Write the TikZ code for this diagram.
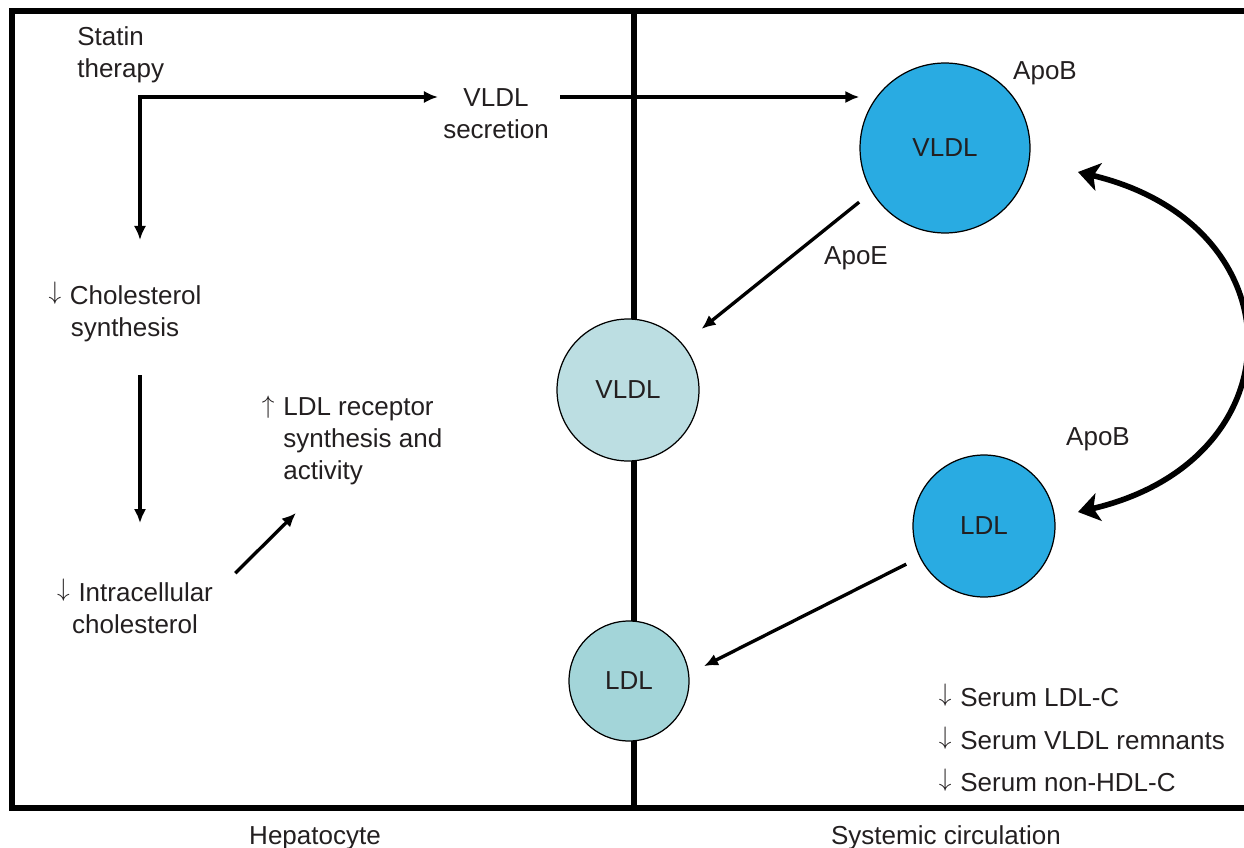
\documentclass[tikz,border=0pt]{standalone}
\usepackage{fontspec}
\setmainfont{Liberation Sans}
\usetikzlibrary{arrows.meta}
\definecolor{apoBlue}{RGB}{41,171,226}
\definecolor{vldlPale}{RGB}{188,222,226}
\definecolor{ldlPale}{RGB}{163,213,217}
\definecolor{inkGray}{RGB}{35,31,32}
\newcommand{\dn}{\smash{\raisebox{3pt}{$\downarrow$}}\hspace{5pt}}
\newcommand{\upw}{\smash{\raisebox{1pt}{$\uparrow$}}\hspace{5pt}}
\begin{document}
\begin{tikzpicture}[x=0.02cm, y=-0.02cm, font=\fontsize{14.8}{18.2}\selectfont]
%styles
\tikzstyle{textLine}=[inner sep=0pt, text=inkGray, yshift=-0.06cm]
\tikzstyle{lipo}=[circle, draw=black, line width=0.7pt, inner sep=0pt, text=inkGray]
\tikzstyle{wall}=[line width=3.2pt]
\tikzstyle{vector}=[-{Latex[length=8pt,width=7pt]}, line width=1.9pt]
\tikzstyle{recycle}=[{Stealth[length=12pt,width=16pt,inset=3pt]}-{Stealth[length=12pt,width=16pt,inset=3pt]}, line width=3.2pt]
\useasboundingbox (0,0) rectangle (1244,848);
%frame
\draw[wall] (12,11) rectangle (1270,808);
\draw[wall] (634,11) -- (634,808);
\node[textLine] (hep) at (315,835) {Hepatocyte};
\node[textLine] (sys) at (946,835) {Systemic circulation};

%hepatocyte side
\node[textLine, align=left, anchor=west] (statin) at (77,52) {Statin\\therapy};
\coordinate (corner) at (140,97);
\coordinate (statinDown) at (140,240);
\coordinate (statinRight) at (438,97);
\draw[vector, {Latex[length=8pt,width=7pt]}-{Latex[length=8pt,width=7pt]}] (statinDown) |- (statinRight);
\node[textLine, align=center] (secr) at (496,111) {VLDL\\secretion};
\node[textLine, align=center] (chol) at (125,311) {\dn Cholesterol\\synthesis};
\node[textLine, align=center] (intra) at (135,605) {\dn Intracellular\\cholesterol};
\draw[vector, shorten <=0.66cm, shorten >=1.18cm] (chol.south -| corner) -- (intra.north -| corner);
\node[textLine, align=left, anchor=west] (ldlr) at (283,438) {\leavevmode\llap{\upw}LDL receptor\\synthesis and\\activity};
\draw[vector] ([xshift=0.44cm,yshift=0.18cm]intra.north east) -- ([xshift=0.26cm,yshift=-0.56cm]ldlr.south west);

%circulation side
\node[lipo, fill=apoBlue, minimum size=3.4cm] (vldlA) at (945,148) {VLDL};
\node[lipo, fill=vldlPale, minimum size=2.84cm] (vldlB) at (628,390) {VLDL};
\node[lipo, fill=apoBlue, minimum size=2.84cm] (ldlA) at (984,526) {LDL};
\node[lipo, fill=ldlPale, minimum size=2.4cm] (ldlB) at (629,681) {LDL};
\draw[vector, shorten <=0.22cm] (secr.east |- statinRight) -- (vldlA.west |- statinRight);
\draw[vector, shorten <=0.32cm, shorten >=0.48cm] (vldlA.211) -- (vldlB.40);
\draw[vector, shorten <=0.3cm, shorten >=0.33cm] (ldlA.206) -- (ldlB.7);
\node[textLine] (apoBtop) at (1045,70) {ApoB};
\node[textLine] (apoE) at (856,255) {ApoE};
\node[textLine] (apoBmid) at (1098,436) {ApoB};
% exchange arc
\coordinate (arcTop) at (1078,172);
\coordinate (arcBot) at (1078,512);
\draw[recycle] (arcTop) .. controls (1300,225) and (1300,460) .. (arcBot);

%serum effects
\node[textLine, anchor=west] (serumLdl) at (960,695) {\llap{\dn}Serum LDL-C};
\node[textLine, anchor=west] (serumVldl) at (960,738) {\llap{\dn}Serum VLDL remnants};
\node[textLine, anchor=west] (serumNonHdl) at (960,780) {\llap{\dn}Serum non-HDL-C};
\end{tikzpicture}
\end{document}
